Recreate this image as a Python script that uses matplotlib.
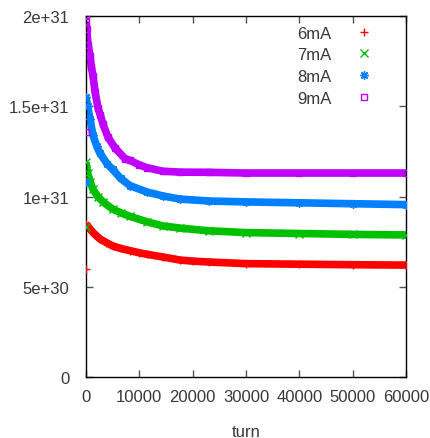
import matplotlib.pyplot as plt
from matplotlib.lines import Line2D

# values (turn, value)
t_6 = [0, 750, 1500, 2600, 3800, 5000, 6500, 8250, 10000, 11400, 14400, 17600, 20000, 23000, 30000, 40000, 50000, 60000]
v_6 = [8.48e30, 8.2e30, 7.95e30, 7.65e30, 7.45e30, 7.26e30, 7.12e30, 7.0e30, 6.88e30, 6.8e30, 6.65e30, 6.48e30, 6.42e30, 6.37e30, 6.28e30, 6.25e30, 6.22e30, 6.2e30]

t_7 = [0, 300, 800, 1300, 2200, 3200, 5000, 6500, 8250, 11400, 14400, 17600, 23000, 30000, 40000, 50000, 60000]
v_7 = [1.19e31, 1.13e31, 1.08e31, 1.04e31, 1.0e31, 9.7e30, 9.3e30, 9.1e30, 8.9e30, 8.6e30, 8.37e30, 8.25e30, 8.1e30, 8.0e30, 7.95e30, 7.9e30, 7.87e30]

t_8 = [0, 300, 750, 1300, 2000, 2600, 4000, 5000, 6500, 8250, 11400, 14400, 17600, 23000, 30000, 40000, 50000, 60000]
v_8 = [1.55e31, 1.5e31, 1.43e31, 1.34e31, 1.28e31, 1.24e31, 1.18e31, 1.15e31, 1.1e31, 1.06e31, 1.025e31, 1.003e31, 9.86e30, 9.75e30, 9.7e30, 9.65e30, 9.6e30, 9.55e30]

t_9 = [0, 100, 400, 750, 1000, 1300, 1700, 2250, 2700, 3200, 4100, 5400, 7300, 8250, 10000, 11400, 14400, 17600, 23000, 30000, 40000, 50000, 60000]
v_9 = [1.97e31, 1.93e31, 1.84e31, 1.78e31, 1.72e31, 1.67e31, 1.58e31, 1.49e31, 1.45e31, 1.40e31, 1.33e31, 1.27e31, 1.21e31, 1.2e31, 1.175e31, 1.16e31, 1.14e31, 1.135e31, 1.134e31, 1.13e31, 1.13e31, 1.13e31, 1.13e31]

# stray early points near turn 0
out_t = [0, 0, 0, 0]
out_6 = [6.0e30]
out_7 = [8.3e30]
out_8 = [1.08e31]
out_9 = [1.36e31, 2.0e31]

labels = ['6mA', '7mA', '8mA', '9mA']
colors = ['#ff0000', '#00c000', '#0080ff', '#c000ff']
markers = ['+', 'x', (8, 2, 0), 's']

plt.rcParams['font.family'] = ['Liberation Sans', 'DejaVu Sans']
txt = '#383838'

fig = plt.figure(figsize=(4.31, 4.39), dpi=100)
ax = fig.add_axes([86 / 431, 1 - 378 / 439, 320 / 431, 361 / 439])

series = [(t_6, v_6, out_6), (t_7, v_7, out_7), (t_8, v_8, out_8), (t_9, v_9, out_9)]
for (t, v, o), c, m in zip(series, colors, markers):
    ax.plot(t, v, color=c, lw=5.5, solid_capstyle='butt', zorder=2)
    if m == 's':
        ax.plot(t, v, ls='none', marker=m, ms=5, mfc='none', mec=c, mew=1, zorder=3)
        ax.plot(out_t[:len(o)], o, ls='none', marker=m, ms=5, mfc='none', mec=c, mew=1, zorder=3)
    else:
        ax.plot(t, v, ls='none', marker=m, ms=6, color=c, mew=1, zorder=3)
        ax.plot(out_t[:len(o)], o, ls='none', marker=m, ms=6, color=c, mew=1, zorder=3)

ax.set_xlim(0, 60000)
ax.set_ylim(0, 2e31)
ax.set_xticks(range(0, 60001, 10000))
ax.set_yticks([0, 5e30, 1e31, 1.5e31, 2e31])
ax.set_yticklabels(['0', '5e+30', '1e+31', '1.5e+31', '2e+31'])
ax.tick_params(direction='in', length=5, width=1, color='#555555', top=True, right=True,
               labelsize=12, labelcolor=txt)
ax.tick_params(axis='y', pad=12)
ax.tick_params(axis='x', pad=9)
for s in ax.spines.values():
    s.set_linewidth(1)
ax.set_xlabel('turn', fontsize=12, color=txt, labelpad=14)

handles = []
for c, m in zip(colors, markers):
    if m == 's':
        handles.append(Line2D([], [], ls='none', marker=m, ms=5, mfc='none', mec=c, mew=1))
    else:
        handles.append(Line2D([], [], ls='none', marker=m, ms=6, color=c, mew=1))
ax.legend(handles, labels, loc='upper right', bbox_to_anchor=(0.941, 1.015), frameon=False,
          markerfirst=False, handlelength=1, handletextpad=1.45, labelspacing=0.4,
          fontsize=12, labelcolor=txt)

fig.savefig('out.png', dpi=100)
